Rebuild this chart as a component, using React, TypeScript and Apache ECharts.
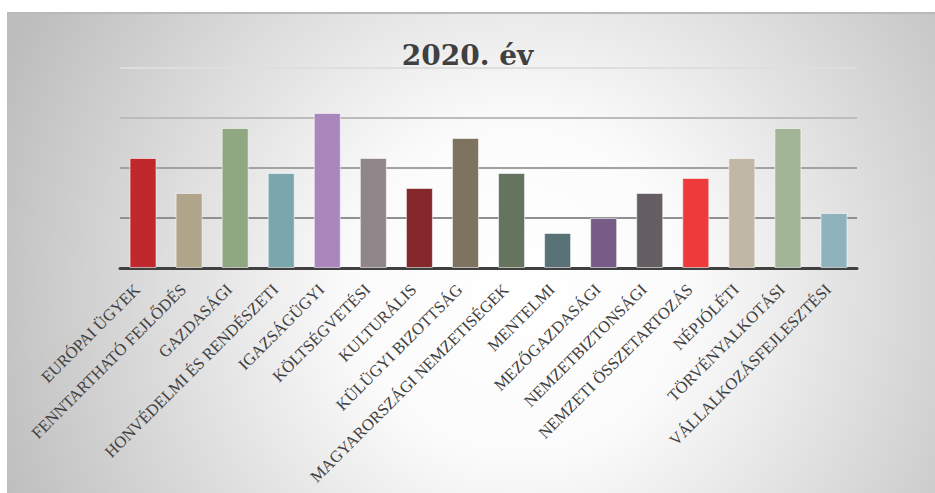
import React, { useEffect, useRef } from "react";
import * as echarts from "echarts";

const categories = [
  "EURÓPAI ÜGYEK",
  "FENNTARTHATÓ FEJLŐDÉS",
  "GAZDASÁGI",
  "HONVÉDELMI ÉS RENDÉSZETI",
  "IGAZSÁGÜGYI",
  "KÖLTSÉGVETÉSI",
  "KULTURÁLIS",
  "KÜLÜGYI BIZOTTSÁG",
  "MAGYARORSZÁGI NEMZETISÉGEK",
  "MENTELMI",
  "MEZŐGAZDASÁGI",
  "NEMZETBIZTONSÁGI",
  "NEMZETI ÖSSZETARTOZÁS",
  "NÉPJÓLÉTI",
  "TÖRVÉNYALKOTÁSI",
  "VÁLLALKOZÁSFEJLESZTÉSI",
];

const values = [22, 15, 28, 19, 31, 22, 16, 26, 19, 7, 10, 15, 18, 22, 28, 11];

const barColors = [
  "#C0282D",
  "#B0A48A",
  "#8FA882",
  "#7AA6AE",
  "#A987BD",
  "#90868A",
  "#85282C",
  "#7D735F",
  "#65745E",
  "#587278",
  "#775C87",
  "#655E62",
  "#EE3A3A",
  "#C0B8A4",
  "#A2B697",
  "#90B2BC",
];

const titleText = "2020. év";

export default function App() {
  const ref = useRef<HTMLDivElement>(null);

  useEffect(() => {
    if (!ref.current) return;
    const chart = echarts.init(ref.current, null, { renderer: "svg" });
    chart.setOption({
      animation: false,
      backgroundColor: "#ffffff",
      graphic: [
        {
          type: "rect",
          z: -10,
          silent: true,
          shape: { x: 7, y: 12, width: 940, height: 490 },
          style: {
            fill: new echarts.graphic.RadialGradient(
              520,
              290,
              560,
              [
                { offset: 0, color: "#ffffff" },
                { offset: 0.3, color: "#fbfbfb" },
                { offset: 1, color: "#bdbdbd" },
              ],
              true
            ),
          },
        },
        {
          type: "rect",
          z: -9,
          silent: true,
          shape: { x: 7, y: 12, width: 940, height: 2 },
          style: { fill: "#b9b9b9" },
        },
      ],
      title: {
        text: titleText,
        left: "center",
        top: 36,
        textStyle: {
          fontFamily: "Georgia, 'DejaVu Serif', serif",
          fontWeight: "bold",
          fontSize: 28,
          color: "#404040",
        },
      },
      grid: { left: 120, right: 78, top: 68, bottom: 225 },
      xAxis: {
        type: "category",
        data: categories,
        axisLine: { show: true, lineStyle: { color: "#404040", width: 3 } },
        axisTick: { show: false },
        axisLabel: {
          interval: 0,
          rotate: 45,
          margin: 13,
          formatter: (v: string) => v + "\u00A0\u00A0",
          fontFamily: "'Liberation Serif', 'Times New Roman', serif",
          fontSize: 16.5,
          color: "#404040",
        },
      },
      yAxis: {
        type: "value",
        min: 0,
        max: 40,
        interval: 10,
        axisLabel: { show: false },
        axisLine: { show: false },
        axisTick: { show: false },
        splitLine: {
          show: true,
          lineStyle: {
            width: 2,
            color: ["#909090", "#909090", "#a2a2a2", "#bcbcbc", "#dedede"],
          },
        },
      },
      series: [
        {
          type: "bar",
          barWidth: 27,
          data: values.map((v, i) => ({
            value: v,
            itemStyle: {
              color: barColors[i],
              borderColor: "rgba(255,255,255,0.55)",
              borderWidth: 1,
            },
          })),
        },
      ],
    });
    return () => chart.dispose();
  }, []);

  return (
    <div
      ref={ref}
      style={{ position: "fixed", left: 0, top: 0, width: 935, height: 493 }}
    />
  );
}
